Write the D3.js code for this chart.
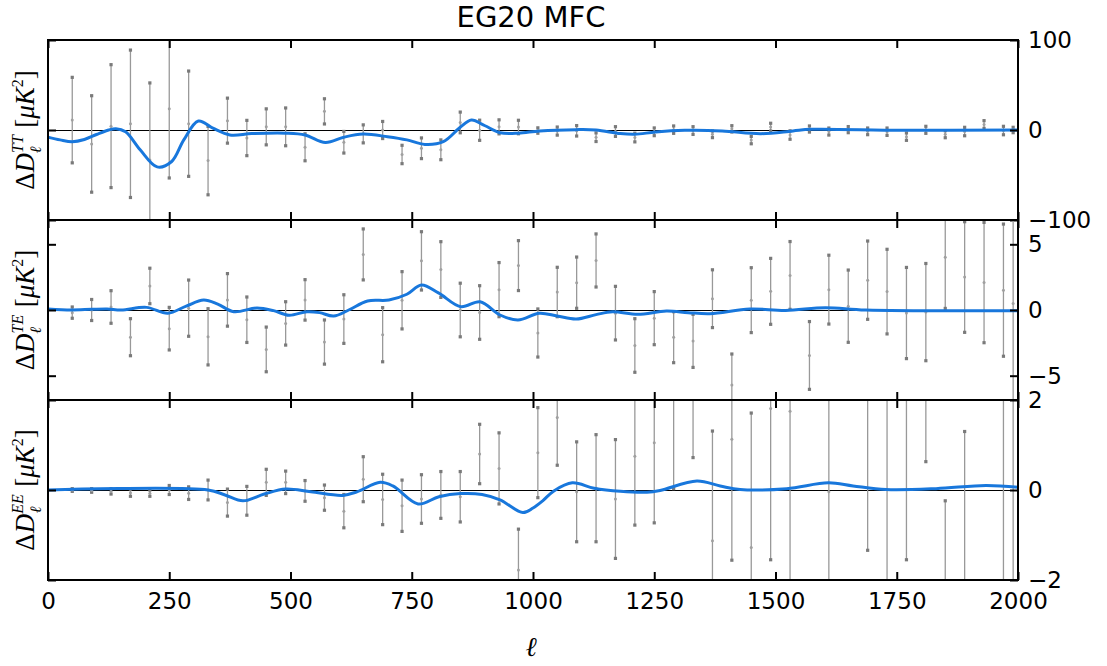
<!DOCTYPE html>
<html lang="en">
<head>
<meta charset="UTF-8">
<title>EG20 MFC</title>
<script src="https://d3js.org/d3.v7.min.js"></script>
<style>
  body { margin: 0; background: #fff; }
  svg { display: block; }
  .tick text { font-family: "DejaVu Sans", sans-serif; }
</style>
</head>
<body>
<svg width="1107" height="666"></svg>
<script>
// multipole bin centres
const ell = [50, 90, 130, 170, 210, 250, 290, 330, 370, 410, 450, 490, 530, 570, 610, 650, 690, 730, 770, 810,
  850, 890, 930, 970, 1010, 1050, 1090, 1130, 1170, 1210, 1250, 1290, 1330, 1370, 1410, 1450, 1490, 1530, 1570, 1610,
  1650, 1690, 1730, 1770, 1810, 1850, 1890, 1930, 1970, 1990];

// residuals and errors, TT
const ttVal = [11, -15.5, 4.3, 6.9, -33.3, 23.7, 7, -34, 10.4, -8.9, 3.5, 3.5, -19.2, 20.7, -13.6, -4.3, 0, -27.2, -20.3, -22,
  8.4, -0.3, 3.5, 3.3, -0.6, -1.2, -0.9, -8, -1.7, -8.4, -2, 0.4, -0.6, -4.8, 1.3, -11.2, 3.2, -5.6, 1.1, -1.7,
  0.4, -1.5, -1.9, -7.4, 0.2, -4.7, -1.7, 6.1, -0.6, 0];
const ttErr = [47.5, 53.6, 68.3, 81.9, 85.6, 77, 58.5, 38, 25, 19.6, 20, 21, 15, 14, 12, 10, 9.5, 10.2, 11.5, 11,
  11.5, 11.2, 7.8, 7.5, 3, 4.5, 5.8, 4.8, 5.4, 4.8, 4.3, 4.1, 4.3, 3.7, 3.5, 4.1, 4.3, 4.7, 3.4, 3.9,
  3.4, 3.7, 4.1, 4.1, 3.9, 3.9, 4.7, 4.3, 4.7, 3];

// TE
const teVal = [-0.2, 0, 0.23, -2.07, 1.83, -1.42, 0.14, -2.04, 0.77, -0.74, -3.0, -1.02, 0.77, -2.44, -0.69, 4.23, -1.88, 0.74, 3.74, 3.08,
  0, -0.19, 1.55, 3.38, -1.75, 1.37, 2.08, 3.77, -0.24, -2.7, -0.62, -2.07, -2.35, 0.86, -5.71, 0.75, 1.42, 2.63, -3.46, 1.55,
  0.29, 2.27, 1.4, -0.23, -0.16, 4.02, 2.51, 2.09, 1.51, 0.5];
const teErr = [0.43, 0.8, 1.24, 1.41, 1.35, 1.62, 2.14, 2.14, 2.0, 1.73, 1.7, 1.65, 1.54, 1.68, 1.85, 1.94, 2.06, 2.18, 2.22, 2.12,
  2.04, 2.04, 2.06, 1.9, 1.83, 1.88, 1.95, 2.02, 2.04, 2.04, 2.02, 1.94, 2.02, 2.2, 2.36, 2.47, 2.51, 2.58, 2.58, 2.62,
  2.75, 2.98, 3.22, 3.47, 3.7, 3.9, 4.21, 4.58, 5.03, 9];

// EE
const eeVal = [0, -0.01, -0.03, -0.06, -0.07, 0, -0.07, 0, -0.28, -0.24, 0.17, 0.17, -0.02, -0.17, -0.47, 0.24, -0.21, -0.35, -0.2, -0.11,
  -0.15, 0.8, 0.48, -1.78, 0.83, 1.61, -0.04, 0.04, -0.2, 0.75, 1.05, 2.08, 2.9, -1.13, 1.13, -1.28, 1.81, 1.75, 7.0, -0.04,
  -7.5, 3.7, 3.0, 3.95, 6.5, -6.5, -5.4, 9, 2.5, -2.5];
const eeErr = [0.03, 0.04, 0.06, 0.08, 0.07, 0.1, 0.14, 0.22, 0.3, 0.32, 0.29, 0.25, 0.23, 0.28, 0.37, 0.5, 0.56, 0.57, 0.54, 0.52,
  0.56, 0.66, 0.79, 0.91, 1.0, 1.06, 1.11, 1.19, 1.32, 1.53, 1.78, 2.05, 2.18, 2.44, 2.69, 2.99, 3.36, 3.9, 4.4, 4.6,
  5.0, 5.04, 6.0, 5.5, 5.87, 6.26, 6.7, 6.5, 8, 10];

// smooth model curves [ell, value]
const ttModel = [[0, -8], [25, -11], [50, -13], [75, -10.5], [100, -5], [125, 0], [140, 1.5], [160, -2], [190, -22], [225, -41],
  [255, -35], [280, -11], [310, 10], [340, 2], [375, -5.5], [420, -4], [490, -3.5], [530, -5.5], [572, -14], [610, -8],
  [650, -4.5], [700, -7.5], [740, -11], [777, -16], [815, -13], [850, 3], [873, 11], [900, 5], [932, -3], [970, -3.5],
  [1014, -1], [1089, 0.4], [1130, 0], [1180, -4], [1210, -4.8], [1253, -2.2], [1313, -0.4], [1390, -1], [1470, -4.1],
  [1536, -1], [1573, 0.7], [1760, -0.4], [2000, 0]];
const teModel = [[0, 0.08], [48, 0], [90, 0.05], [122, 0.08], [151, 0], [203, 0.2], [247, -0.25], [285, 0.3], [321, 0.76],
  [350, 0.45], [383, -0.13], [431, 0.15], [465, -0.05], [497, -0.4], [534, -0.13], [560, -0.2], [589, -0.46], [620, 0],
  [659, 0.69], [703, 0.76], [740, 1.2], [770, 1.9], [805, 1.3], [851, 0.25], [891, 0.63], [932, -0.38], [969, -0.76],
  [1013, -0.25], [1050, -0.46], [1089, -0.69], [1130, -0.35], [1164, -0.13], [1216, -0.33], [1275, -0.08], [1320, -0.2],
  [1365, -0.28], [1447, 0.08], [1521, -0.03], [1603, 0.18], [1686, 0], [2000, -0.05]];
const eeModel = [[0, 0], [330, 0], [365, -0.11], [402, -0.24], [446, -0.09], [490, 0.02], [542, -0.04], [608, -0.12],
  [637, -0.04], [685, 0.17], [711, 0.09], [763, -0.31], [806, -0.15], [851, -0.08], [895, -0.1], [932, -0.22], [979, -0.5],
  [1000, -0.4], [1020, -0.24], [1043, -0.02], [1081, 0.16], [1126, 0.04], [1180, -0.03], [1235, -0.05], [1262, -0.01],
  [1338, 0.2], [1386, 0.09], [1427, 0.01], [1523, 0.03], [1609, 0.16], [1660, 0.09], [1728, 0.01], [1831, 0.03],
  [1934, 0.1], [2000, 0.06]];

const xTicks = [0, 250, 500, 750, 1000, 1250, 1500, 1750, 2000];
const ttTicks = [-100, 0, 100];
const teTicks = [-5, 0, 5];
const eeTicks = [-2, 0, 2];
const spectra = ["TT", "TE", "EE"];

const left = 48, right = 1018, top0 = 40, panelH = 180;
const blue = "#1877dc";

const panels = [
  { name: spectra[0], val: ttVal, err: ttErr, model: ttModel, ticks: ttTicks, domain: [-100, 100] },
  { name: spectra[1], val: teVal, err: teErr, model: teModel, ticks: teTicks, domain: [-6.85, 6.85] },
  { name: spectra[2], val: eeVal, err: eeErr, model: eeModel, ticks: eeTicks, domain: [-2, 2] }
];

const svg = d3.select("svg");
const x = d3.scaleLinear().domain([0, 2000]).range([left, right]);

svg.append("text")
  .attr("x", 531)
  .attr("y", 27)
  .attr("text-anchor", "middle")
  .attr("font-family", "DejaVu Sans, sans-serif")
  .attr("font-size", 29)
  .text("EG20 MFC");

panels.forEach((p, k) => {
  const y0 = top0 + k * panelH, y1 = y0 + panelH;
  const y = d3.scaleLinear().domain(p.domain).range([y1, y0]);
  const g = svg.append("g");

  g.append("clipPath").attr("id", "clip" + k)
    .append("rect").attr("x", left).attr("y", y0).attr("width", right - left).attr("height", panelH);

  const inner = g.append("g").attr("clip-path", `url(#clip${k})`);

  // zero line
  inner.append("line")
    .attr("x1", left).attr("x2", right)
    .attr("y1", Math.round(y(0)) + 0.5).attr("y2", Math.round(y(0)) + 0.5)
    .attr("stroke", "#000").attr("stroke-width", 1);

  const pts = ell.map((l, i) => ({ l: l, v: p.val[i], e: p.err[i] }));

  // error bars
  inner.selectAll("line.err").data(pts).join("line")
    .attr("class", "err")
    .attr("x1", d => x(d.l)).attr("x2", d => x(d.l))
    .attr("y1", d => y(d.v - d.e)).attr("y2", d => y(d.v + d.e))
    .attr("stroke", "#999").attr("stroke-width", 1.3);

  const caps = pts.flatMap(d => [{ l: d.l, v: d.v - d.e }, { l: d.l, v: d.v + d.e }]);
  inner.selectAll("rect.cap").data(caps).join("rect")
    .attr("class", "cap")
    .attr("x", d => x(d.l) - 1.6).attr("y", d => y(d.v) - 1.6)
    .attr("width", 3.2).attr("height", 3.2)
    .attr("fill", "#7a7a7a");

  inner.selectAll("circle.pt").data(pts).join("circle")
    .attr("class", "pt")
    .attr("cx", d => x(d.l)).attr("cy", d => y(d.v))
    .attr("r", 1.5)
    .attr("fill", "#a0a0a0");

  // model curve
  const line = d3.line()
    .x(d => x(d[0])).y(d => y(d[1]))
    .curve(d3.curveCatmullRom.alpha(0.5));
  inner.append("path")
    .attr("d", line(p.model))
    .attr("fill", "none")
    .attr("stroke", blue)
    .attr("stroke-width", 3);

  // axes, ticks pointing inward
  const axTop = g.append("g").attr("transform", `translate(0,${y0})`)
    .call(d3.axisTop(x).tickValues(xTicks).tickSize(-8).tickSizeOuter(0).tickFormat(""));
  const axBot = g.append("g").attr("transform", `translate(0,${y1})`)
    .call(d3.axisBottom(x).tickValues(xTicks).tickSize(-8).tickSizeOuter(0).tickPadding(13)
      .tickFormat(k === panels.length - 1 ? d3.format("d") : ""));
  const axL = g.append("g").attr("transform", `translate(${left},0)`)
    .call(d3.axisLeft(y).tickValues(p.ticks).tickSize(-8).tickSizeOuter(0).tickFormat(""));
  const axR = g.append("g").attr("transform", `translate(${right},0)`)
    .call(d3.axisRight(y).tickValues(p.ticks).tickSize(-8).tickSizeOuter(0).tickPadding(10).tickFormat(d3.format("d")));

  [axTop, axBot, axL, axR].forEach(a => {
    a.select(".domain").remove();
    a.selectAll(".tick line").attr("stroke", "#000").attr("stroke-width", 2);
    a.selectAll(".tick text").attr("font-size", 23).attr("fill", "#000");
  });

  g.append("rect")
    .attr("x", left).attr("y", y0)
    .attr("width", right - left).attr("height", panelH)
    .attr("fill", "none").attr("stroke", "#000").attr("stroke-width", 2);

  // y label
  const lab = g.append("text")
    .attr("transform", `translate(34,${(y0 + y1) / 2}) rotate(-90)`)
    .attr("text-anchor", "middle")
    .attr("font-family", "Liberation Serif, DejaVu Serif, serif")
    .attr("font-size", 27);
  lab.append("tspan").text("Δ");
  lab.append("tspan").attr("font-style", "italic").text("D");
  lab.append("tspan").attr("font-style", "italic").attr("font-size", 16).attr("dy", -11).text(p.name);
  lab.append("tspan").attr("font-style", "italic").attr("font-size", 16)
    .attr("dx", p.name === "TT" ? -18 : -19).attr("dy", 18).text("ℓ");
  lab.append("tspan").attr("dx", p.name === "TT" ? 12 : 13).attr("dy", -7).text(" [");
  lab.append("tspan").attr("font-style", "italic").text("μK");
  lab.append("tspan").attr("font-size", 16).attr("dy", -11).text("2");
  lab.append("tspan").attr("dy", 11).text("]");
});

svg.append("text")
  .attr("x", 531)
  .attr("y", 656)
  .attr("text-anchor", "middle")
  .attr("font-family", "DejaVu Serif, serif")
  .attr("font-style", "italic")
  .attr("font-size", 27)
  .text("ℓ");
</script>
</body>
</html>
